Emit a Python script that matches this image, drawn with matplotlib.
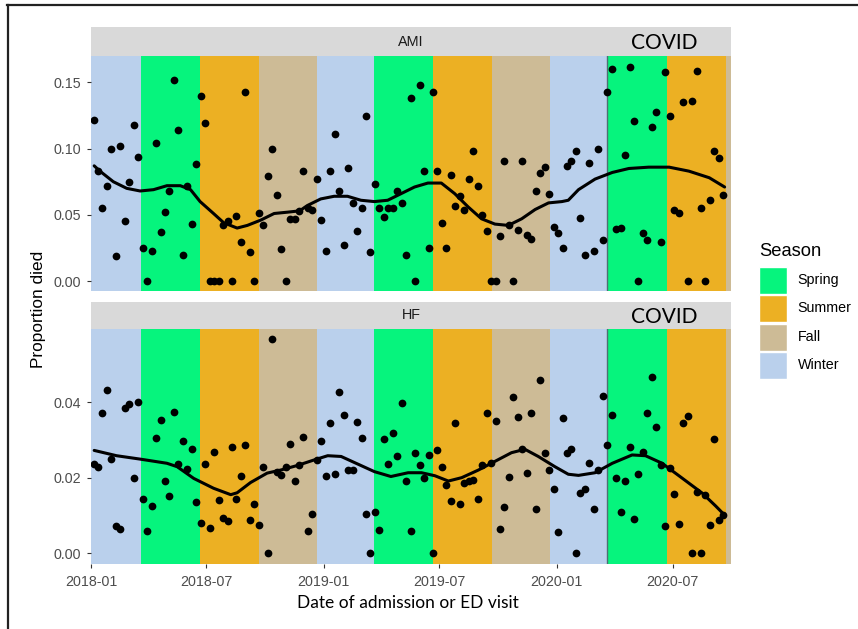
import matplotlib
matplotlib.use('Agg')
import matplotlib.pyplot as plt
import matplotlib.dates as mdates
from matplotlib.patches import Rectangle
from matplotlib.lines import Line2D
import pandas as pd

# weekly proportion died
ami = [0.122, 0.083, 0.055, 0.0715, 0.100, 0.0186, 0.102, 0.045, 0.075, 0.1176,
       0.094, 0.025, 0.000, 0.023, 0.104, 0.037, 0.052, 0.068, 0.152, 0.114,
       0.020, 0.072, 0.043, 0.0886, 0.1395, 0.119, 0.000, 0.000, 0.000, 0.042,
       0.045, 0.000, 0.049, 0.0297, 0.143, 0.022, 0.000, 0.0516, 0.042, 0.079,
       0.100, 0.065, 0.024, 0.000, 0.0466, 0.0466, 0.053, 0.083, 0.055, 0.054,
       0.077, 0.046, 0.023, 0.083, 0.111, 0.068, 0.027, 0.085, 0.059, 0.038,
       0.055, 0.125, 0.022, 0.073, 0.055, 0.048, 0.055, 0.055, 0.068, 0.059,
       0.020, 0.138, 0.000, 0.148, 0.083, 0.025, 0.143, 0.083, 0.0436, 0.025,
       0.080, 0.057, 0.064, 0.054, 0.077, 0.098, 0.0715, 0.050, 0.038, 0.000,
       0.000, 0.034, 0.091, 0.042, 0.000, 0.0385, 0.091, 0.035, 0.032, 0.068,
       0.0816, 0.086, 0.066, 0.041, 0.0365, 0.025, 0.087, 0.091, 0.098, 0.0476,
       0.020, 0.089, 0.023, 0.100, 0.031, 0.143, 0.160, 0.039, 0.040, 0.095,
       0.162, 0.121, 0.000, 0.036, 0.031, 0.116, 0.128, 0.0295, 0.158, 0.125,
       0.054, 0.051, 0.135, 0.000, 0.136, 0.159, 0.055, 0.000, 0.061, 0.098,
       0.093, 0.065]

hf = [0.0236, 0.0228, 0.0372, 0.0431, 0.0250, 0.0071, 0.0064, 0.0384, 0.0396, 0.0198,
      0.0400, 0.0143, 0.0060, 0.0125, 0.0306, 0.0352, 0.0192, 0.0152, 0.0374, 0.0235,
      0.0298, 0.0223, 0.0277, 0.0136, 0.0081, 0.0236, 0.0067, 0.0267, 0.0141, 0.0094,
      0.0085, 0.0280, 0.0143, 0.0205, 0.0286, 0.0087, 0.0130, 0.0076, 0.0228, 0.0000,
      0.0566, 0.0216, 0.0206, 0.0227, 0.0288, 0.0191, 0.0233, 0.0308, 0.0058, 0.0104,
      0.0246, 0.0297, 0.0205, 0.0345, 0.0210, 0.0426, 0.0366, 0.0220, 0.0221, 0.0347,
      0.0304, 0.0105, 0.0000, 0.0108, 0.0061, 0.0301, 0.0237, 0.0317, 0.0258, 0.0397,
      0.0192, 0.0058, 0.0265, 0.0233, 0.0198, 0.0259, 0.0000, 0.0272, 0.0229, 0.0180,
      0.0138, 0.0344, 0.0130, 0.0187, 0.0190, 0.0194, 0.0143, 0.0233, 0.0370, 0.0238,
      0.0349, 0.0063, 0.0122, 0.0201, 0.0413, 0.0361, 0.0275, 0.0213, 0.0370, 0.0118,
      0.0458, 0.0266, 0.0221, 0.0170, 0.0056, 0.0357, 0.0264, 0.0276, 0.0000, 0.0160,
      0.0171, 0.0239, 0.0116, 0.0220, 0.0415, 0.0287, 0.0366, 0.0198, 0.0108, 0.0191,
      0.0280, 0.0090, 0.0210, 0.0268, 0.0370, 0.0467, 0.0335, 0.0233, 0.0071, 0.0225,
      0.0157, 0.0078, 0.0344, 0.0362, 0.0000, 0.0162, 0.0000, 0.0154, 0.0074, 0.0302,
      0.0088, 0.0101]

weeks = pd.date_range('2018-01-05', periods=len(ami), freq='7D')

# smoothed trend lines as drawn in the chart
ami_fit_dates = ['2018-01-06', '2018-01-15', '2018-02-05', '2018-02-26', '2018-03-19', '2018-04-09',
                 '2018-04-30', '2018-05-21', '2018-06-06', '2018-06-21', '2018-07-12', '2018-07-28',
                 '2018-08-18', '2018-09-03', '2018-09-24', '2018-10-15', '2018-11-05', '2018-11-24',
                 '2018-12-06', '2018-12-27', '2019-01-17', '2019-02-07', '2019-02-28', '2019-03-21',
                 '2019-04-11', '2019-05-02', '2019-05-23', '2019-06-13', '2019-07-04', '2019-07-25',
                 '2019-08-15', '2019-09-05', '2019-09-26', '2019-10-17', '2019-11-07', '2019-11-28',
                 '2019-12-19', '2020-01-09', '2020-01-19', '2020-02-04', '2020-03-01', '2020-03-28',
                 '2020-04-23', '2020-05-24', '2020-06-25', '2020-07-26', '2020-08-27', '2020-09-20']
ami_fit = [0.087, 0.083, 0.075, 0.070, 0.068, 0.069,
           0.072, 0.072, 0.069, 0.060, 0.051, 0.044,
           0.040, 0.042, 0.046, 0.051, 0.052, 0.053,
           0.057, 0.062, 0.064, 0.064, 0.061, 0.060,
           0.061, 0.066, 0.071, 0.074, 0.074, 0.066,
           0.056, 0.047, 0.043, 0.042, 0.047, 0.054,
           0.059, 0.060, 0.061, 0.069, 0.077, 0.082,
           0.085, 0.086, 0.086, 0.083, 0.078, 0.071]

hf_fit_dates = ['2018-01-06', '2018-02-10', '2018-03-19', '2018-04-30', '2018-05-16', '2018-06-11',
                '2018-07-12', '2018-08-08', '2018-08-18', '2018-09-08', '2018-10-04', '2018-10-25',
                '2018-11-20', '2018-12-17', '2019-01-07', '2019-01-28', '2019-02-23', '2019-03-21',
                '2019-04-16', '2019-05-13', '2019-06-03', '2019-06-24', '2019-07-15', '2019-08-05',
                '2019-08-31', '2019-09-26', '2019-10-22', '2019-11-12', '2019-12-03', '2019-12-29',
                '2020-01-19', '2020-02-04', '2020-03-01', '2020-03-28', '2020-04-28', '2020-05-19',
                '2020-06-14', '2020-07-16', '2020-08-16', '2020-09-06', '2020-09-20']
hf_fit = [0.0272, 0.0258, 0.0249, 0.0238, 0.0229, 0.0198,
          0.0172, 0.0155, 0.0160, 0.0187, 0.0212, 0.0220,
          0.0232, 0.0247, 0.0258, 0.0256, 0.0236, 0.0216,
          0.0203, 0.0213, 0.0213, 0.0205, 0.0191, 0.0200,
          0.0220, 0.0243, 0.0266, 0.0275, 0.0256, 0.0229,
          0.0209, 0.0206, 0.0213, 0.0238, 0.0260, 0.0258,
          0.0238, 0.0198, 0.0159, 0.0125, 0.0101]

# season bands
band_starts = ['2018-01-01', '2018-03-20', '2018-06-21', '2018-09-22', '2018-12-21', '2019-03-20',
               '2019-06-21', '2019-09-22', '2019-12-21', '2020-03-20', '2020-06-21', '2020-09-22']
band_seasons = ['Winter', 'Spring', 'Summer', 'Fall', 'Winter', 'Spring',
                'Summer', 'Fall', 'Winter', 'Spring', 'Summer', 'Fall']
x_end = '2020-09-30'
covid_start = '2020-03-20'

seasons = ['Spring', 'Summer', 'Fall', 'Winter']
season_colors = {'Spring': '#06F47D', 'Summer': '#ECB023', 'Fall': '#CDBB96', 'Winter': '#BAD0EC'}

panels = [('AMI', ami, ami_fit_dates, ami_fit, (-0.00755, 0.1702), [0, 0.05, 0.10, 0.15]),
          ('HF', hf, hf_fit_dates, hf_fit, (-0.00283, 0.0593), [0, 0.02, 0.04])]

W, H = 858, 629
fig = plt.figure(figsize=(W / 100, H / 100), dpi=100)
fig.patch.set_facecolor('white')

ax_font = 'Liberation Sans'
panel_px = [(55.7, 291.0), (329.0, 564.0)]
strip_px = [(27.3, 55.7), (301.7, 329.0)]

edges = pd.to_datetime(band_starts + [x_end])
for k, (name, vals, fdates, fvals, ylim, yticks) in enumerate(panels):
    top, bot = panel_px[k]
    ax = fig.add_axes([91 / W, 1 - bot / H, 640 / W, (bot - top) / H])
    for i, s in enumerate(band_seasons):
        ax.axvspan(edges[i], edges[i + 1], color=season_colors[s], lw=0, zorder=0)
    ax.axvline(pd.Timestamp(covid_start), color='#4f6f73', lw=1.0, zorder=1)
    ax.scatter(weeks, vals, s=31, color='black', zorder=3, linewidths=0)
    ax.plot(pd.to_datetime(fdates), fvals, color='black', lw=2.2, zorder=4,
            solid_capstyle='round', solid_joinstyle='round')
    ax.set_xlim(pd.Timestamp(band_starts[0]), pd.Timestamp(x_end))
    ax.set_ylim(*ylim)
    ax.set_yticks(yticks)
    ax.set_yticklabels(['%.2f' % v for v in yticks])
    ax.xaxis.set_major_locator(mdates.MonthLocator(bymonth=[1, 7]))
    ax.xaxis.set_major_formatter(mdates.DateFormatter('%Y-%m'))
    for sp in ax.spines.values():
        sp.set_visible(False)
    ax.tick_params(colors='#333333', length=3, width=0.8, labelcolor='#4D4D4D',
                   labelsize=10.3)
    ax.tick_params(axis='y', pad=4)
    ax.tick_params(axis='x', pad=5)
    for lab in ax.get_xticklabels() + ax.get_yticklabels():
        lab.set_fontfamily(ax_font)
    if k == 0:
        ax.tick_params(axis='x', bottom=False, labelbottom=False)

    st, sb = strip_px[k]
    sax = fig.add_axes([91 / W, 1 - sb / H, 640 / W, (sb - st) / H])
    sax.set_facecolor('#D9D9D9')
    sax.set_xticks([])
    sax.set_yticks([])
    for sp in sax.spines.values():
        sp.set_visible(False)
    sax.text(0.5, 0.5, name, ha='center', va='center', fontsize=10.4,
             color='#1A1A1A', family=ax_font, transform=sax.transAxes)
    fig.text(664.5 / W, 1 - (st + sb) / 2 / H - 0.002, 'COVID', ha='center', va='center',
             fontsize=15, family='Lato', color='black')

fig.text(39 / W, 1 - 309 / H, 'Proportion died', rotation=90, ha='center', va='center',
         fontsize=12.4, family=ax_font, color='black')
fig.text(408 / W, 1 - 608 / H, 'Date of admission or ED visit', ha='center', va='baseline',
         fontsize=12.5, family='Lato', color='black')

# legend
fig.text(759 / W, 1 - 256 / H, 'Season', ha='left', va='baseline', fontsize=13.2,
         family=ax_font, color='black')
for i, s in enumerate(seasons):
    ktop = 266.5 + i * 28.5
    fig.add_artist(Rectangle((759 / W, 1 - (ktop + 27) / H), 28 / W, 27 / H,
                             transform=fig.transFigure, facecolor=season_colors[s],
                             edgecolor='white', lw=1))
    fig.text(797.7 / W, 1 - (ktop + 13.5) / H, s, ha='left', va='center', fontsize=10.3,
             family=ax_font, color='black')

# frame lines from the screenshot
fig.add_artist(Line2D([7 / W, 1], [1 - 4.5 / H, 1 - 4.5 / H], transform=fig.transFigure,
                      color='#222222', lw=1.6))
fig.add_artist(Line2D([7.5 / W, 7.5 / W], [0, 1 - 4.5 / H], transform=fig.transFigure,
                      color='#222222', lw=1.6))

fig.savefig('out.png', dpi=100)
